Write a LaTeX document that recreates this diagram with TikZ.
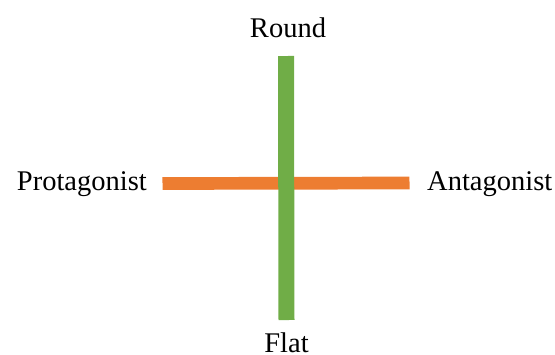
\documentclass[tikz,border=0pt]{standalone}
\usepackage{fontspec}
\setmainfont{Liberation Serif}
\usepackage{xcolor}
\definecolor{barGreen}{RGB}{112,173,71}
\definecolor{barOrange}{RGB}{237,125,49}

\begin{document}
\begin{tikzpicture}[x=1pt,y=-1pt]
\tikzset{axislabel/.style={font=\fontsize{28.5}{33}\selectfont,text=black,inner sep=0pt}}
\useasboundingbox (0,0) rectangle (555,354);
\node[axislabel,anchor=base] (round) at (288,37.5) {Round};
\node[axislabel,anchor=base] (flat) at (286.5,352) {Flat};
\node[axislabel,anchor=base east] (protag) at (147,190.5) {Protagonist};
\node[axislabel,anchor=base west] (antag) at (427,190.5) {Antagonist};
\coordinate (orangeleft) at (162.5,183.5);
\coordinate (orangeright) at (409.5,183);
\coordinate (greentop) at (286,56);
\coordinate (greenbottom) at (286.5,320);
\draw[barOrange,line width=12.7pt] (orangeleft) -- (orangeright);
\draw[barGreen,line width=16pt] (greentop) -- (greenbottom);
\end{tikzpicture}
\end{document}
